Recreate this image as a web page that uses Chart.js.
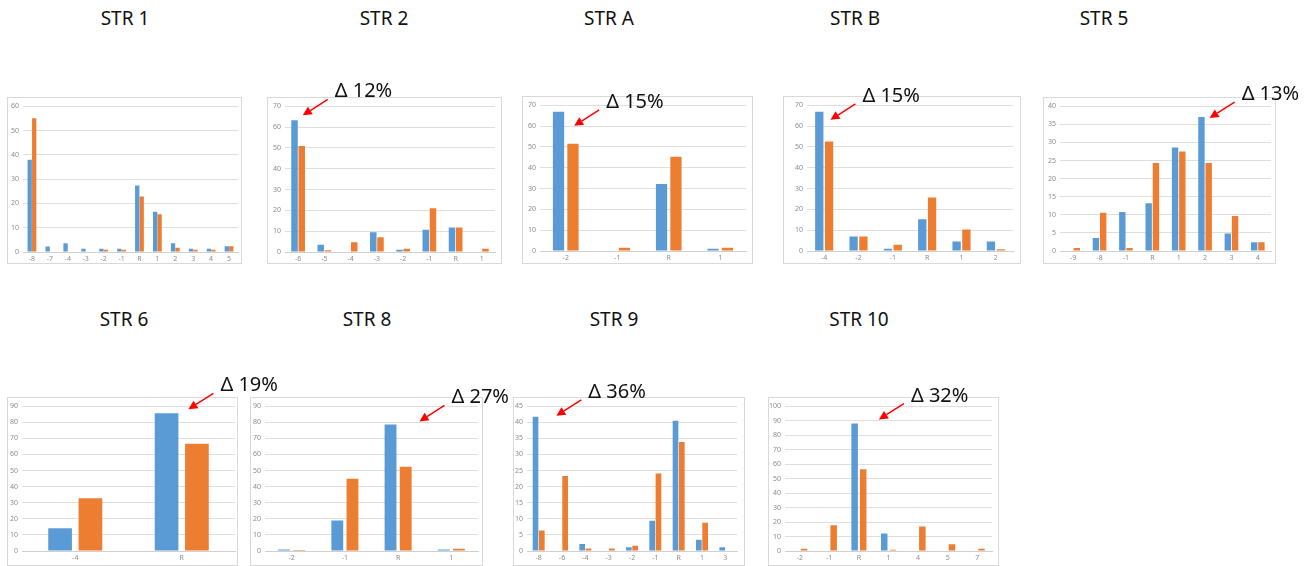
<!DOCTYPE html>
<html>
<head>
<meta charset="utf-8">
<script src="https://cdn.jsdelivr.net/npm/chart.js@4.4.0/dist/chart.umd.min.js"></script>
<style>
  html, body { margin: 0; padding: 0; background: #fff; }
  #page { position: relative; width: 1314px; height: 566px; overflow: hidden; font-family: "Noto Sans", sans-serif; }
  .title { position: absolute; font-size: 19px; color: #111; transform: translate(-50%, -50%); white-space: nowrap; line-height: 1; }
  .panel { position: absolute; box-sizing: border-box; border: 1px solid #d9d9d9; background: #fff; }
  .panel canvas { position: absolute; left: 0; top: 0; }
  #overlay { position: absolute; left: 0; top: 0; pointer-events: none; }
</style>
</head>
<body>
<div id="page">
  <canvas id="overlay" width="1314" height="566"></canvas>
</div>
<script>
// category labels and the two series per chart
const str1Labels = ['-8', '-7', '-4', '-3', '-2', '-1', 'R', '1', '2', '3', '4', '5'];
const str1Blue = [38, 2.3, 3.6, 1.3, 1.3, 1.3, 27.4, 16.6, 3.6, 1.3, 1.3, 2.4];
const str1Orange = [55, 0, 0, 0, 0.9, 0.9, 22.8, 15.5, 1.8, 0.9, 0.9, 2.4];

const str2Labels = ['-6', '-5', '-4', '-3', '-2', '-1', 'R', '1'];
const str2Blue = [63.2, 3.5, 0, 9.5, 1.1, 10.7, 11.8, 0];
const str2Orange = [50.9, 0.9, 4.7, 7.1, 1.6, 21.0, 11.8, 1.6];

const strALabels = ['-2', '-1', 'R', '1'];
const strABlue = [66.8, 0, 32.2, 1.1];
const strAOrange = [51.5, 1.6, 45.2, 1.6];

const strBLabels = ['-4', '-2', '-1', 'R', '1', '2'];
const strBBlue = [66.8, 7.0, 1.1, 15.3, 4.6, 4.6];
const strBOrange = [52.6, 7.0, 3.0, 25.7, 10.3, 0.8];

const str5Labels = ['-9', '-8', '-1', 'R', '1', '2', '3', '4'];
const str5Blue = [0, 3.6, 10.8, 13.2, 28.6, 37.0, 4.8, 2.4];
const str5Orange = [0.8, 10.6, 0.8, 24.3, 27.5, 24.3, 9.7, 2.4];

const str6Labels = ['-4', 'R'];
const str6Blue = [14.2, 85.6];
const str6Orange = [32.8, 66.6];

const str8Labels = ['-2', '-1', 'R', '1'];
const str8Blue = [1.0, 18.9, 78.7, 1.0];
const str8Orange = [0.6, 44.9, 52.4, 1.4];

const str9Labels = ['-8', '-6', '-4', '-3', '-2', '-1', 'R', '1', '3'];
const str9Blue = [41.7, 0, 2.2, 0, 1.2, 9.4, 40.5, 3.5, 1.2];
const str9Orange = [6.4, 23.3, 0.8, 0.8, 1.6, 24.1, 33.9, 8.8, 0];

const str10Labels = ['-2', '-1', 'R', '1', '4', '5', '7'];
const str10Blue = [0, 0, 88.0, 12.0, 0, 0, 0];
const str10Orange = [1.6, 17.8, 56.4, 0.9, 16.9, 4.7, 1.6];

// y axis ranges
const yMaxes = [60, 70, 70, 70, 40, 90, 90, 45, 100];
const ySteps = [10, 10, 10, 10, 5, 10, 10, 5, 10];

// delta callouts: chart title, text, which category the arrow points to
const deltaTexts = [null, 'Δ 12%', 'Δ 15%', 'Δ 15%', 'Δ 13%', 'Δ 19%', 'Δ 27%', 'Δ 36%', 'Δ 32%'];
const deltaIndex = [null, 0, 0, 0, 5, 1, 2, 0, 2];

const titles = ['STR 1', 'STR 2', 'STR A', 'STR B', 'STR 5', 'STR 6', 'STR 8', 'STR 9', 'STR 10'];

const BLUE = '#5b9bd5', ORANGE = '#ed7d31';

// panel frames: box, plot insets, title position, bar spacing, arrow offset from the bar
const panels = [
  { labels: str1Labels, blue: str1Blue, orange: str1Orange, x: 7, y: 97, w: 235, h: 167, l: 16, r: 4, t: 7, b: 155, tx: 125, ty: 18, cat: 0.5, bar: 0.96 },
  { labels: str2Labels, blue: str2Blue, orange: str2Orange, x: 267, y: 97, w: 235, h: 167, l: 18, r: 7, t: 7, b: 155, tx: 384, ty: 18, cat: 0.55, bar: 0.9, ax: 5, ay: -5 },
  { labels: strALabels, blue: strABlue, orange: strAOrange, x: 522, y: 96, w: 231, h: 168, l: 18, r: 7, t: 7, b: 155, tx: 609, ty: 18, cat: 0.56, bar: 0.78, ax: 10, ay: 14 },
  { labels: strBLabels, blue: strBBlue, orange: strBOrange, x: 783, y: 96, w: 238, h: 168, l: 24, r: 8, t: 7, b: 155, tx: 855, ty: 18, cat: 0.57, bar: 0.85, ax: 7, ay: 8 },
  { labels: str5Labels, blue: str5Blue, orange: str5Orange, x: 1043, y: 97, w: 233, h: 167, l: 17, r: 5, t: 6, b: 154, tx: 1104, ty: 18, cat: 0.55, bar: 0.88, ax: 5, ay: 1 },
  { labels: str6Labels, blue: str6Blue, orange: str6Orange, x: 7, y: 397, w: 231, h: 169, l: 15, r: 3, t: 6, b: 154, tx: 124, ty: 319, cat: 0.57, bar: 0.78, ax: 10, ay: -4 },
  { labels: str8Labels, blue: str8Blue, orange: str8Orange, x: 250, y: 397, w: 233, h: 169, l: 15, r: 5, t: 6, b: 154, tx: 367, ty: 319, cat: 0.57, bar: 0.78, ax: 23, ay: -3 },
  { labels: str9Labels, blue: str9Blue, orange: str9Orange, x: 513, y: 397, w: 232, h: 169, l: 14, r: 8, t: 6, b: 154, tx: 614, ty: 319, cat: 0.54, bar: 0.9, ax: 18, ay: -1 },
  { labels: str10Labels, blue: str10Blue, orange: str10Orange, x: 768, y: 397, w: 231, h: 169, l: 17, r: 7, t: 6, b: 154, tx: 859, ty: 319, cat: 0.58, bar: 0.76, ax: 21, ay: -4 },
];

const page = document.getElementById('page');
const overlay = document.getElementById('overlay');
const charts = [];

panels.forEach((p, i) => {
  const title = document.createElement('div');
  title.className = 'title';
  title.style.left = p.tx + 'px';
  title.style.top = p.ty + 'px';
  title.textContent = titles[i];
  page.insertBefore(title, overlay);

  const box = document.createElement('div');
  box.className = 'panel';
  Object.assign(box.style, { left: p.x + 'px', top: p.y + 'px', width: p.w + 'px', height: p.h + 'px' });
  const cv = document.createElement('canvas');
  cv.width = p.w - 2;
  cv.height = p.h - 2;
  box.appendChild(cv);
  page.insertBefore(box, overlay);

  const tickFont = { family: 'Noto Sans', size: 7 };
  charts.push(new Chart(cv, {
    type: 'bar',
    data: {
      labels: p.labels,
      datasets: [
        { data: p.blue, backgroundColor: BLUE },
        { data: p.orange, backgroundColor: ORANGE },
      ],
    },
    options: {
      responsive: false,
      animation: false,
      events: [],
      categoryPercentage: p.cat,
      barPercentage: p.bar,
      layout: { padding: { top: p.t - 1, right: p.r - 1, left: 0, bottom: 0 } },
      plugins: { legend: { display: false }, tooltip: { enabled: false } },
      scales: {
        y: {
          min: 0, max: yMaxes[i],
          ticks: { stepSize: ySteps[i], font: tickFont, color: '#8c8c8c', padding: 4 },
          grid: { color: '#dedede', drawTicks: false },
          border: { display: false },
          afterFit: s => { s.width = p.l - 1; },
        },
        x: {
          ticks: { font: tickFont, color: '#8c8c8c', padding: 3, maxRotation: 0, autoSkip: false },
          grid: { display: false, drawTicks: false },
          border: { color: '#d0d0d0' },
          afterFit: s => { s.height = p.h - 2 - (p.b - 1); },
        },
      },
    },
  }));
});

// red arrows and delta labels, anchored to the top of the pointed blue bar
const ctx = overlay.getContext('2d');
panels.forEach((p, i) => {
  if (!deltaTexts[i]) return;
  const bar = charts[i].getDatasetMeta(0).data[deltaIndex[i]];
  const tipX = p.x + 1 + bar.x + bar.width / 2 + p.ax;
  const tipY = p.y + 1 + bar.y + p.ay;
  const tailX = tipX + 25, tailY = tipY - 16;
  const ang = Math.atan2(tipY - tailY, tipX - tailX);
  const head = 9, half = 4.5;
  const bx = tipX - head * Math.cos(ang), by = tipY - head * Math.sin(ang);

  ctx.strokeStyle = '#ff0000';
  ctx.fillStyle = '#ff0000';
  ctx.lineWidth = 1.5;
  ctx.beginPath();
  ctx.moveTo(tailX, tailY);
  ctx.lineTo(bx, by);
  ctx.stroke();
  ctx.beginPath();
  ctx.moveTo(tipX, tipY);
  ctx.lineTo(bx + half * Math.sin(ang), by - half * Math.cos(ang));
  ctx.lineTo(bx - half * Math.sin(ang), by + half * Math.cos(ang));
  ctx.closePath();
  ctx.fill();

  ctx.fillStyle = '#111';
  ctx.font = '20px "Noto Sans"';
  ctx.textBaseline = 'alphabetic';
  ctx.fillText(deltaTexts[i], tailX + 7, tailY - 2);
});
</script>
</body>
</html>
